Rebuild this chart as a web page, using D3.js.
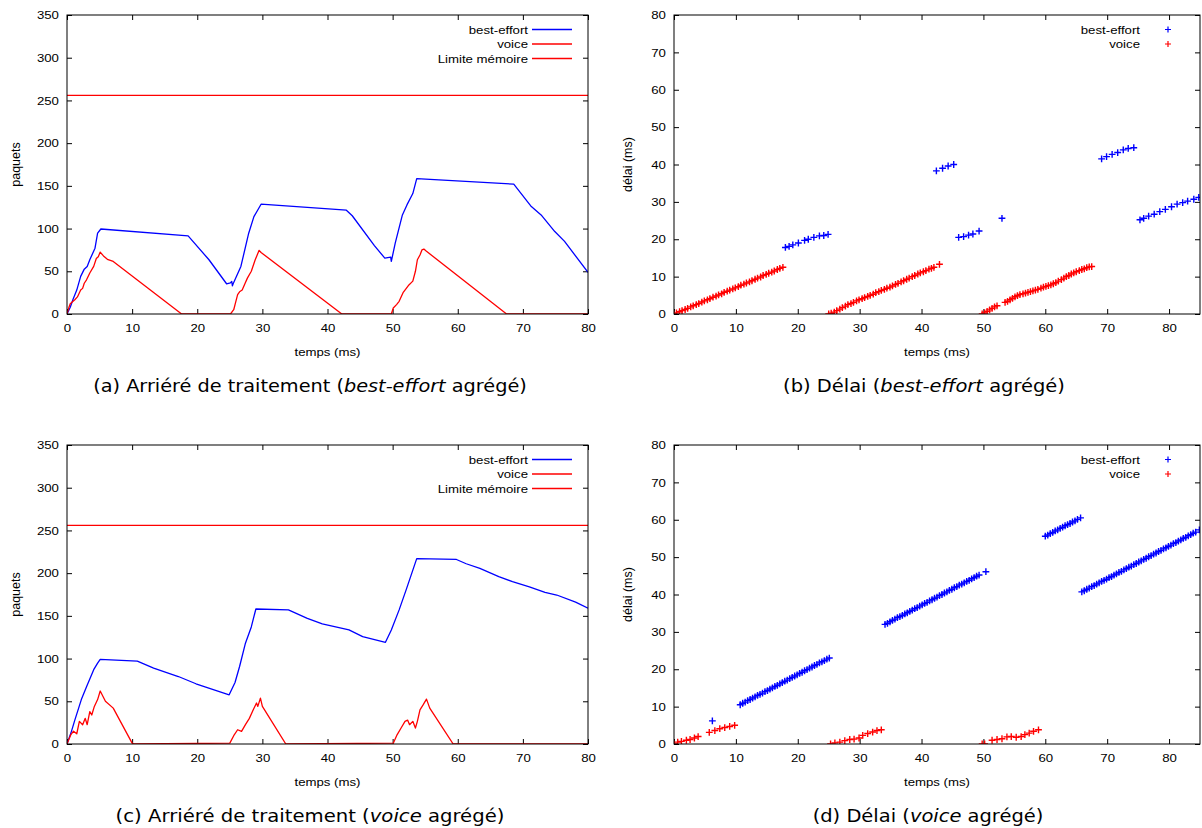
<!DOCTYPE html>
<html><head><meta charset="utf-8">
<script src="https://cdn.jsdelivr.net/npm/d3@7"></script>
<style>body{margin:0;background:#fff}svg{display:block}</style>
</head><body>
<svg id="chart" width="1202" height="828"></svg>
<script>
// ---------- data ----------
const timeTicks = [0,10,20,30,40,50,60,70,80];
const backlogTicks = [0,50,100,150,200,250,300,350];
const delayTicks = [0,10,20,30,40,50,60,70,80];
const memoryLimit = 256;

// (a) backlog, best-effort aggregated
const aBestEffort = [[0,0],[0.5,8],[0.9,16.7],[1.5,28],[2.1,44],[2.65,52.5],[3.1,55.7],[3.5,63.5],[4.3,77],[4.7,94.6],[5.2,99.5],[18.6,91.5],[21.8,63.5],[24.5,35.4],[25.1,36.5],[25.3,38],[25.4,33],[25.6,37],[26.7,55.7],[27.9,94.6],[28.7,114],[29.8,128.5],[42.9,121.5],[43.8,115],[47.2,80],[48.8,65.4],[49.7,66.6],[49.8,61.5],[50.4,83],[51.5,116],[52.2,127.7],[53.1,141],[53.7,158.5],[68.6,152],[71.3,125.7],[72.8,116],[74.9,96.5],[76.4,85],[80,48.7]];
const aVoice = [[0,0],[0.3,8],[0.5,12],[1.2,16.7],[1.6,20],[2.1,28],[2.4,30],[2.65,36],[3.0,40],[3.5,48],[4.1,55.7],[4.5,65],[4.8,67],[5.1,72.5],[5.6,68],[6.2,64],[7.1,61.5],[17.6,0],[25.1,0],[25.6,5],[25.9,14],[26.2,22.6],[26.5,26],[26.9,28],[27.3,35],[27.7,42],[28.3,50],[28.9,63.5],[29.5,74.5],[29.8,72],[42.2,0],[49.8,0],[50.1,7],[50.6,11],[51,14.8],[51.6,25],[52.1,30],[52.5,34],[53.1,38.5],[53.5,50],[53.8,63.5],[54.2,69],[54.5,75],[54.8,76],[55.1,74],[67.5,0],[80,0]];

// (b) delay, best-effort aggregated
const bBestEffort = [[18.0,17.8],[18.6,18.1],[19.2,18.5],[20.1,19.0],[21.1,19.7],[21.7,20.0],[22.6,20.5],[23.5,20.9],[24.2,21.0],[24.9,21.3],
 [42.4,38.3],[43.4,39.0],[44.3,39.6],[45.2,40.0],
 [46.0,20.5],[46.8,20.7],[47.6,21.1],[48.3,21.4],[49.3,22.2],
 [53.0,25.6],
 [69.1,41.5],[69.9,42.1],[70.8,42.7],[71.7,43.2],[72.6,43.9],[73.4,44.3],[74.3,44.5],
 [75.3,25.2],[75.9,25.6],[76.7,26.2],[77.6,26.7],[78.5,27.4],[79.4,28.0],[80.4,28.7],[81.3,29.4],[82.2,29.8],[83.0,30.2],[84.0,30.7],[84.8,31.2]];
const bVoice = [[0,0],[0.4,0.3],[0.9,0.6],[1.3,0.9],[1.8,1.2],[2.2,1.5],[2.7,1.9],[3.1,2.2],[3.6,2.5],[4.0,2.8],[4.5,3.2],[4.9,3.5],[5.4,3.8],[5.8,4.1],[6.3,4.5],[6.8,4.8],[7.2,5.1],[7.7,5.4],[8.1,5.8],[8.6,6.1],[9.0,6.4],[9.5,6.7],[9.9,7.0],[10.4,7.3],[10.8,7.7],[11.3,8.0],[11.7,8.3],[12.2,8.6],[12.6,8.9],[13.1,9.3],[13.5,9.6],[14.0,9.9],[14.4,10.3],[14.9,10.6],[15.3,10.9],[15.8,11.2],[16.2,11.5],[16.7,11.9],[17.1,12.2],[17.6,12.5],
 [25.0,0],[25.4,0.2],[25.9,0.5],[26.3,0.9],[26.8,1.3],[27.2,1.7],[27.7,2.1],[28.1,2.5],[28.6,2.8],[29.0,3.1],[29.5,3.5],[29.9,3.8],[30.4,4.1],[30.8,4.4],[31.3,4.7],[31.7,5.0],[32.2,5.3],[32.6,5.7],[33.1,6.0],[33.5,6.3],[34.0,6.6],[34.4,6.9],[34.9,7.2],[35.3,7.5],[35.8,7.9],[36.2,8.2],[36.7,8.6],[37.1,8.9],[37.6,9.3],[38.0,9.6],[38.5,10.0],[38.9,10.3],[39.4,10.7],[39.8,11.0],[40.3,11.3],[40.7,11.6],[41.2,12.0],[41.6,12.2],[42.0,12.5],[42.9,13.3],
 [49.8,0],[50.2,0.3],[50.6,0.7],[51.0,1.1],[51.4,1.5],[51.8,1.9],[52.2,2.2],[53.5,3.1],[53.9,3.4],[54.3,3.8],[54.7,4.2],[55.1,4.6],[55.5,4.9],[55.9,5.2],[56.4,5.4],[56.8,5.6],[57.2,5.8],[57.6,6.0],[58.0,6.2],[58.4,6.4],[58.8,6.6],[59.3,6.9],[59.7,7.2],[60.1,7.4],[60.5,7.6],[60.9,7.8],[61.3,8.1],[61.7,8.4],[62.1,8.8],[62.6,9.2],[63.0,9.6],[63.4,10.0],[63.8,10.3],[64.2,10.7],[64.6,11.0],[65.0,11.3],[65.5,11.6],[65.9,11.9],[66.3,12.1],[66.7,12.4],[67.1,12.6],[67.5,12.7]];

// (c) backlog, voice aggregated
const cBestEffort = [[0,0],[0.6,12.8],[1.2,28],[2.2,52],[3.0,67],[4.1,87],[4.7,94.6],[5.1,99],[10.8,97],[13.3,88.8],[17.1,79],[19.8,70.5],[24.9,57.6],[25.8,72],[26.5,90.7],[27.4,118],[28.3,137],[29.0,158],[34.0,157],[36.9,147],[39.2,140.5],[43.3,133.5],[45.4,125.7],[48.9,119],[49.8,133.5],[51.0,157],[52.1,181],[53.7,217],[59.8,216],[61.3,211],[63.4,205.5],[66.3,196],[68.4,190],[71.0,184],[73.4,177.5],[75.2,174.4],[78.1,166],[80,159]];
const cVoice = [[0,0],[0.6,11],[1.0,15],[1.5,12],[1.9,26.5],[2.4,22.6],[2.8,30],[3.1,22.6],[3.5,38],[3.8,34],[4.2,44],[4.7,52],[5.1,62],[5.9,50],[7.1,42],[10.0,1],[10.3,0],[25.0,1],[25.6,9.7],[26.2,16.7],[26.8,14.8],[27.4,22.6],[28.0,30],[28.6,40],[29.1,48],[29.3,44],[29.7,53.7],[30.0,44],[33.6,0],[50.1,1],[50.7,11],[51.3,18.7],[51.9,26.5],[52.3,28],[52.6,22.6],[53.1,26.5],[53.5,18.7],[53.8,26.5],[54.2,40],[54.7,46],[55.2,52.5],[55.7,42],[59.3,0],[80,0]];

// (d) delay, voice aggregated
const dBestEffort = [[6.2,6.2],
 [10.7,10.5],[11.1,10.9],[11.5,11.2],[11.9,11.6],[12.3,11.9],[12.7,12.3],[13.1,12.6],[13.5,13.0],[13.9,13.3],[14.3,13.6],[14.7,14.0],[15.1,14.3],[15.5,14.7],[15.9,15.0],[16.3,15.4],[16.7,15.7],[17.1,16.1],[17.5,16.4],[17.9,16.8],[18.3,17.1],[18.7,17.5],[19.1,17.8],[19.5,18.2],[19.9,18.5],[20.3,18.9],[20.7,19.2],[21.1,19.6],[21.5,19.9],[21.9,20.3],[22.3,20.6],[22.7,21.0],[23.1,21.3],[23.5,21.7],[23.9,22.0],[24.3,22.3],[24.7,22.7],[25.1,23.0],
 [34.1,32.0],[34.5,32.3],[34.9,32.7],[35.3,33.1],[35.7,33.4],[36.1,33.8],[36.5,34.1],[36.9,34.4],[37.3,34.8],[37.7,35.1],[38.1,35.5],[38.5,35.8],[38.9,36.2],[39.3,36.5],[39.7,36.9],[40.1,37.2],[40.5,37.6],[40.9,37.9],[41.3,38.3],[41.7,38.6],[42.1,39.0],[42.5,39.3],[42.9,39.7],[43.3,40.0],[43.7,40.4],[44.1,40.7],[44.5,41.1],[44.9,41.4],[45.3,41.8],[45.7,42.1],[46.1,42.5],[46.5,42.8],[46.9,43.1],[47.3,43.5],[47.7,43.8],[48.1,44.2],[48.5,44.5],[48.9,44.9],[49.3,45.2],[50.4,46.1],
 [60.0,55.6],[60.4,55.9],[60.8,56.3],[61.2,56.6],[61.6,57.0],[62.0,57.3],[62.4,57.7],[62.8,58.0],[63.2,58.4],[63.6,58.7],[64.0,59.0],[64.4,59.4],[64.8,59.7],[65.2,60.1],[65.7,60.5],
 [65.9,40.7],[66.3,41.0],[66.7,41.4],[67.1,41.7],[67.5,42.1],[67.9,42.4],[68.3,42.8],[68.7,43.1],[69.1,43.5],[69.5,43.8],[69.9,44.1],[70.3,44.5],[70.7,44.8],[71.1,45.2],[71.5,45.5],[71.9,45.9],[72.3,46.2],[72.7,46.6],[73.1,46.9],[73.5,47.3],[73.9,47.6],[74.3,48.0],[74.7,48.3],[75.1,48.7],[75.5,49.0],[75.9,49.4],[76.3,49.7],[76.7,50.1],[77.1,50.4],[77.5,50.8],[77.9,51.1],[78.3,51.5],[78.7,51.8],[79.1,52.2],[79.5,52.5],[79.9,52.9],[80.3,53.2],[80.7,53.6],[81.1,53.9],[81.5,54.3],[81.9,54.6],[82.3,55.0],[82.7,55.3],[83.1,55.7],[83.5,56.0],[83.9,56.4],[84.3,56.7],[84.9,57.3]];
const dVoice = [[0,0],[0.6,0.5],[1.2,0.7],[2.0,1.0],[2.6,1.2],[3.3,1.6],[3.9,2.0],
 [5.7,3.1],[6.6,3.6],[7.4,4.1],[8.2,4.4],[9.0,4.7],[9.8,5.0],
 [25.3,0],[26.0,0.3],[26.8,0.5],[27.6,0.9],[28.4,1.2],[29.1,1.3],[29.9,1.6],[30.5,2.3],[31.3,2.8],[32.1,3.2],[32.8,3.6],[33.5,3.8],
 [49.8,0],[50.2,0],
 [51.4,1.0],[52.2,1.2],[53.0,1.4],[53.8,1.9],[54.5,2.0],[55.3,1.8],[56.1,2.0],[56.7,2.5],[57.4,2.9],[58.1,3.4],[58.9,3.8]];

const captionA = [['(a) Arriéré de traitement (',false],['best-effort',true],[' agrégé)',false]];
const captionB = [['(b) Délai (',false],['best-effort',true],[' agrégé)',false]];
const captionC = [['(c) Arriéré de traitement (',false],['voice',true],[' agrégé)',false]];
const captionD = [['(d) Délai (',false],['voice',true],[' agrégé)',false]];

// ---------- drawing ----------
const BLUE = '#0000ff', RED = '#ff0000';
const FONT = 'Liberation Sans, Arial, sans-serif';
const SX = 1.15; // horizontal stretch of gnuplot text
const svg = d3.select('#chart');

const panels = [
  {id:'a', type:'line', x0:67, x1:588, y0:15, y1:314, xMax:80, yMax:350, yTicks:backlogTicks, ylabel:'paquets', ylabOff:51,
   series:[{name:'best-effort', data:aBestEffort, color:BLUE},{name:'voice', data:aVoice, color:RED}], caption:captionA, capX:310, capW:434},
  {id:'b', type:'scatter', x0:674, x1:1200, y0:15, y1:314, xMax:85, yMax:80, yTicks:delayTicks, ylabel:'délai (ms)', ylabOff:46,
   series:[{name:'best-effort', data:bBestEffort, color:BLUE},{name:'voice', data:bVoice, color:RED}], caption:captionB, capX:924, capW:282},
  {id:'c', type:'line', x0:67, x1:588, y0:445, y1:744, xMax:80, yMax:350, yTicks:backlogTicks, ylabel:'paquets', ylabOff:51,
   series:[{name:'best-effort', data:cBestEffort, color:BLUE},{name:'voice', data:cVoice, color:RED}], caption:captionC, capX:310, capW:389},
  {id:'d', type:'scatter', x0:674, x1:1200, y0:445, y1:744, xMax:85, yMax:80, yTicks:delayTicks, ylabel:'délai (ms)', ylabOff:46,
   series:[{name:'best-effort', data:dBestEffort, color:BLUE},{name:'voice', data:dVoice, color:RED}], caption:captionD, capX:928, capW:231}
];

const crossPath = 'M-3.4,0H3.4M0,-3.4V3.4';

panels.forEach(p => {
  const x = d3.scaleLinear().domain([0, p.xMax]).range([p.x0, p.x1]);
  const y = d3.scaleLinear().domain([0, p.yMax]).range([p.y1, p.y0]);
  const g = svg.append('g');

  svg.append('clipPath').attr('id','clip-'+p.id).append('rect')
    .attr('x',p.x0).attr('y',p.y0).attr('width',p.x1-p.x0).attr('height',p.y1-p.y0);

  // axes (gnuplot style: inward ticks, mirrored)
  const styleAxis = (sel, withText) => {
    sel.select('.domain').remove();
    sel.selectAll('line').attr('stroke','#000').attr('stroke-width',1);
    if (withText) sel.selectAll('text').attr('font-family',FONT).attr('font-size',11.5).attr('fill','#000')
      .attr('transform',`scale(${SX},1)`);
  };
  g.append('g').attr('transform',`translate(0,${p.y1})`)
    .call(d3.axisBottom(x).tickValues(timeTicks).tickSize(-5).tickPadding(10).tickFormat(d3.format('d')))
    .call(s=>styleAxis(s,true));
  g.append('g').attr('transform',`translate(0,${p.y0})`)
    .call(d3.axisTop(x).tickValues(timeTicks).tickSize(-5).tickFormat(''))
    .call(s=>styleAxis(s,false));
  g.append('g').attr('transform',`translate(${p.x0},0)`)
    .call(d3.axisLeft(y).tickValues(p.yTicks).tickSize(-5).tickPadding(7).tickFormat(d3.format('d')))
    .call(s=>styleAxis(s,true));
  g.append('g').attr('transform',`translate(${p.x1},0)`)
    .call(d3.axisRight(y).tickValues(p.yTicks).tickSize(-5).tickFormat(''))
    .call(s=>styleAxis(s,false));

  const plot = g.append('g').attr('clip-path',`url(#clip-${p.id})`);

  const legendEntries = [];
  if (p.type === 'line') {
    const line = d3.line().x(d=>x(d[0])).y(d=>y(d[1]));
    plot.append('path').datum([[0,memoryLimit],[p.xMax,memoryLimit]])
      .attr('d',line).attr('fill','none').attr('stroke',RED).attr('stroke-width',1.3);
    p.series.forEach(s => {
      plot.append('path').datum(s.data).attr('d',line).attr('fill','none')
        .attr('stroke',s.color).attr('stroke-width',1.3).attr('stroke-linejoin','round');
      legendEntries.push({name:s.name,color:s.color});
    });
    legendEntries.push({name:'Limite mémoire',color:RED});
  } else {
    p.series.forEach(s => {
      plot.append('g').selectAll('path').data(s.data).join('path')
        .attr('transform',d=>`translate(${x(d[0])},${y(d[1])})`)
        .attr('d',crossPath).attr('stroke',s.color).attr('stroke-width',1.4).attr('fill','none');
      legendEntries.push({name:s.name,color:s.color});
    });
  }

  // border
  g.append('rect').attr('x',p.x0).attr('y',p.y0).attr('width',p.x1-p.x0).attr('height',p.y1-p.y0)
    .attr('fill','none').attr('stroke','#000').attr('stroke-width',1);

  // legend
  legendEntries.forEach((e,i) => {
    const ly = p.y0 + 14.5 + i*14.5;
    const tx = p.x1 - 60;
    g.append('text').attr('transform',`translate(${tx},${ly}) scale(${SX},1)`)
      .attr('text-anchor','end').attr('dy','0.35em')
      .attr('font-family',FONT).attr('font-size',11.5).attr('fill','#000').text(e.name);
    if (p.type === 'line') {
      g.append('line').attr('x1',p.x1-56).attr('x2',p.x1-16).attr('y1',ly).attr('y2',ly)
        .attr('stroke',e.color).attr('stroke-width',1.3);
    } else {
      g.append('path').attr('transform',`translate(${p.x1-32},${ly})`).attr('d','M-3,0H3M0,-3V3')
        .attr('stroke',e.color).attr('stroke-width',1.2);
    }
  });

  // axis labels
  g.append('text').attr('transform',`translate(${(p.x0+p.x1)/2},${p.y1+42}) scale(${SX},1)`)
    .attr('text-anchor','middle').attr('font-family',FONT).attr('font-size',11.5).attr('fill','#000').text('temps (ms)');
  g.append('text').attr('transform',`translate(${p.x0-p.ylabOff},${(p.y0+p.y1)/2}) rotate(-90)`)
    .attr('text-anchor','middle').attr('dy','0.35em').attr('font-family',FONT).attr('font-size',12.5).attr('fill','#000').text(p.ylabel);

  // caption
  const cap = svg.append('text').attr('font-family','DejaVu Sans, sans-serif').attr('font-size',17)
    .attr('fill','#000').attr('text-anchor','middle');
  p.caption.forEach(([t,it]) => cap.append('tspan').attr('font-style',it?'italic':'normal').text(t));
  const len = cap.node().getComputedTextLength();
  cap.attr('transform',`translate(${p.capX},${p.y1+78}) scale(${p.capW/len},1)`);
});
</script>
</body></html>
